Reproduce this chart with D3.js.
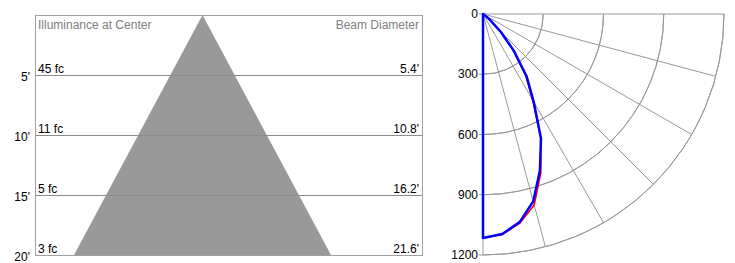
<!DOCTYPE html>
<html>
<head>
<meta charset="utf-8">
<script src="https://cdn.jsdelivr.net/npm/d3@7"></script>
<style>
  body { margin: 0; background: #fff; }
  svg text { font-family: "Liberation Sans", Arial, sans-serif; font-size: 12px; }
</style>
</head>
<body>
<div id="chart"></div>
<script>
// cone of light data
const distances = [5, 10, 15, 20];
const illuminance = [45, 11, 5, 3];
const beamDiameter = [5.4, 10.8, 16.2, 21.6];
const distanceTicks = [5, 10, 15, 20];

// polar candela data (angle from nadir, degrees)
const angles = [0, 5, 10, 15, 20, 25, 30, 35, 40, 45, 50, 55, 60, 65, 70, 75, 80, 85, 90];
const candelaPlane0 = [1115, 1100, 1052, 966, 829, 683, 505, 378, 238, 125, 42, 12, 3, 0, 0, 0, 0, 0, 0];
const candelaPlane90 = [1115, 1102, 1058, 985, 842, 680, 495, 368, 230, 120, 40, 10, 2, 0, 0, 0, 0, 0, 0];
const radialTicks = [0, 300, 600, 900, 1200];
const spokeAngles = [0, 15, 30, 45, 60, 75, 90];

const svg = d3.select("#chart").append("svg")
    .attr("width", 735)
    .attr("height", 263);

// ---------- left panel ----------
const box = { left: 35, right: 422, top: 15, bottom: 255 };
const y = d3.scaleLinear().domain([0, 20]).range([box.top, box.bottom]);
// horizontal scale in feet, centred on the apex
const maxD = beamDiameter[beamDiameter.length - 1];
const x = d3.scaleLinear().domain([-maxD / 2, maxD / 2]).range([74, 331]);

const left = svg.append("g");

left.append("rect")
    .attr("x", box.left + 0.5)
    .attr("y", box.top + 0.5)
    .attr("width", box.right - box.left)
    .attr("height", box.bottom - box.top)
    .attr("fill", "#fff")
    .attr("stroke", "#a0a0a0");

// the cone
const last = distances.length - 1;
const cone = [[0, 0], [-beamDiameter[last] / 2, distances[last]], [beamDiameter[last] / 2, distances[last]]];
left.append("path")
    .attr("d", d3.line().x(d => x(d[0])).y(d => y(d[1]))(cone) + "Z")
    .attr("fill", "#999999");

// distance lines
left.selectAll(".dist-line")
    .data(distances.slice(0, last))
    .enter().append("line")
    .attr("class", "dist-line")
    .attr("x1", box.left)
    .attr("x2", box.right)
    .attr("y1", d => Math.round(y(d)) + 0.5)
    .attr("y2", d => Math.round(y(d)) + 0.5)
    .attr("stroke", "#8c8c8c");

left.append("text")
    .attr("x", box.left + 3)
    .attr("y", box.top + 14)
    .attr("fill", "#808080")
    .text("Illuminance at Center");

left.append("text")
    .attr("x", box.right - 3)
    .attr("y", box.top + 14)
    .attr("fill", "#808080")
    .attr("text-anchor", "end")
    .text("Beam Diameter");

left.selectAll(".fc-label")
    .data(distances)
    .enter().append("text")
    .attr("class", "fc-label")
    .attr("x", box.left + 3)
    .attr("y", d => y(d) - 2)
    .text((d, i) => illuminance[i] + " fc");

left.selectAll(".bd-label")
    .data(distances)
    .enter().append("text")
    .attr("class", "bd-label")
    .attr("x", box.right - 3)
    .attr("y", d => y(d) - 2)
    .attr("text-anchor", "end")
    .text((d, i) => beamDiameter[i].toFixed(1) + "'");

left.selectAll(".ft-label")
    .data(distanceTicks)
    .enter().append("text")
    .attr("class", "ft-label")
    .attr("x", 30)
    .attr("y", d => y(d) + 6)
    .attr("text-anchor", "end")
    .text(d => d + "'");

// ---------- right panel (polar) ----------
const origin = { x: 483, y: 14 };
const r = d3.scaleLinear().domain([0, 1200]).range([0, 241]);
const rad = a => a * Math.PI / 180;

const polar = svg.append("g")
    .attr("transform", `translate(${origin.x}, ${origin.y})`);

// arcs
polar.selectAll(".ring")
    .data(radialTicks.slice(1))
    .enter().append("path")
    .attr("class", "ring")
    .attr("d", d => d3.arc()
        .innerRadius(r(d)).outerRadius(r(d))
        .startAngle(Math.PI / 2).endAngle(Math.PI)())
    .attr("fill", "none")
    .attr("stroke", "#999");

// spokes
polar.selectAll(".spoke")
    .data(spokeAngles)
    .enter().append("line")
    .attr("class", "spoke")
    .attr("x1", 0).attr("y1", 0)
    .attr("x2", d => r(1200) * Math.sin(rad(d)))
    .attr("y2", d => r(1200) * Math.cos(rad(d)))
    .attr("stroke", "#999");

// tick marks + labels
polar.selectAll(".tick")
    .data(radialTicks)
    .enter().append("line")
    .attr("class", "tick")
    .attr("x1", -4).attr("x2", 0)
    .attr("y1", d => r(d)).attr("y2", d => r(d))
    .attr("stroke", "#999");

polar.selectAll(".r-label")
    .data(radialTicks)
    .enter().append("text")
    .attr("class", "r-label")
    .attr("x", -5)
    .attr("y", d => r(d) + 4)
    .attr("text-anchor", "end")
    .text(d => d);

const curve = d3.lineRadial()
    .angle(d => Math.PI - rad(d[0]))
    .radius(d => r(d[1]))
    .curve(d3.curveLinearClosed);

polar.append("path")
    .attr("d", curve(angles.map((a, i) => [a, candelaPlane90[i]])))
    .attr("fill", "none")
    .attr("stroke", "#ff0000")
    .attr("stroke-width", 1.5);

polar.append("path")
    .attr("d", curve(angles.map((a, i) => [a, candelaPlane0[i]])))
    .attr("fill", "none")
    .attr("stroke", "#0000ff")
    .attr("stroke-width", 2.5)
    .attr("stroke-linejoin", "round");
</script>
</body>
</html>
